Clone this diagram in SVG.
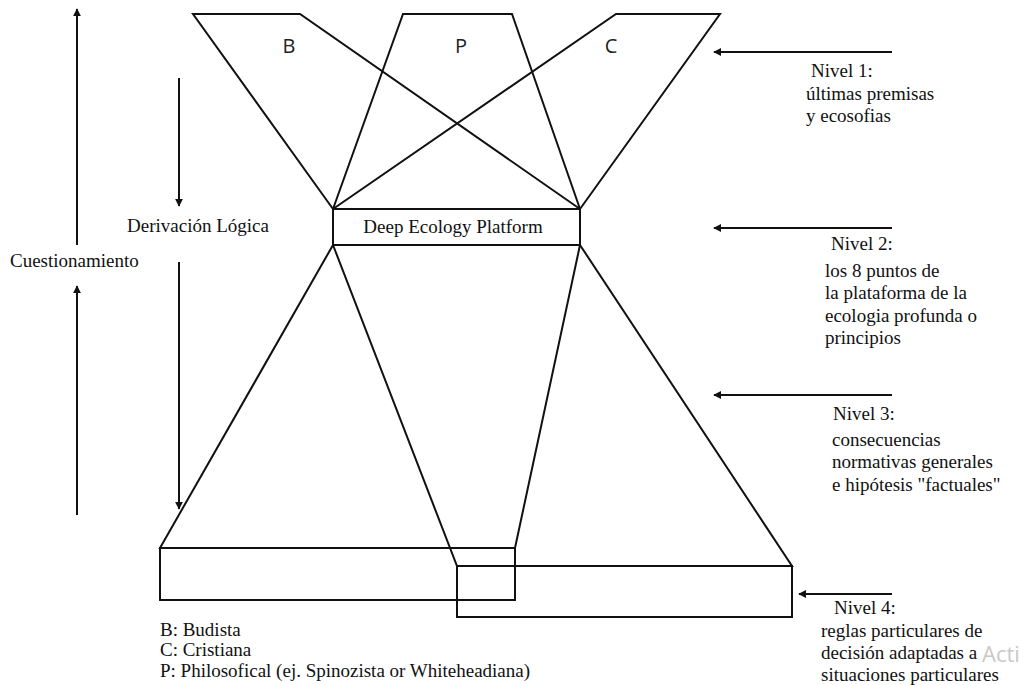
<svg xmlns="http://www.w3.org/2000/svg" width="1026" height="685" viewBox="0 0 1026 685">
<style>
.ln{stroke:#111;stroke-width:2;fill:none}
.t{font-family:'Liberation Serif',serif;font-size:19px;fill:#111}
.s{font-family:'Open Sans',sans-serif;font-size:20px;fill:#222}
.wm{font-family:'Open Sans',sans-serif;font-size:22px;fill:#c8c8c8}
</style>
<defs>
<marker id="ah" viewBox="0 0 10 10" refX="9" refY="5" markerWidth="8" markerHeight="8" markerUnits="userSpaceOnUse" orient="auto">
<path d="M0,0 L10,5 L0,10 z" fill="#111"/>
</marker>
</defs>
<rect width="1026" height="685" fill="#fff"/>
<g id="top-B">
<polyline class="ln" points="333,209 193,14 300,14 580,209"/>
<text class="s" x="289" y="53" text-anchor="middle">B</text>
</g>
<g id="top-P">
<polyline class="ln" points="333,209 403,14 512,14 580,209"/>
<text class="s" x="461" y="53" text-anchor="middle">P</text>
</g>
<g id="top-C">
<polyline class="ln" points="333,209 616,14 720,14 580,209"/>
<text class="s" x="611" y="53" text-anchor="middle">C</text>
</g>
<g id="platform">
<rect class="ln" x="333" y="209" width="247" height="36"/>
<text class="t" x="453" y="233" text-anchor="middle" font-family="Liberation Serif">Deep Ecology Platform</text>
</g>
<g id="bottom-left">
<polyline class="ln" points="333,245 160,548 515,548 580,245"/>
<rect class="ln" x="160" y="548" width="355" height="52"/>
</g>
<g id="bottom-right">
<polyline class="ln" points="333,245 457,566 792,566 580,245"/>
<rect class="ln" x="457" y="566" width="335" height="51"/>
</g>
<g id="connectors">
<line class="ln" x1="77" y1="245" x2="77" y2="9" marker-end="url(#ah)"/>
<line class="ln" x1="77" y1="515" x2="77" y2="286" marker-end="url(#ah)"/>
<line class="ln" x1="179" y1="78" x2="179" y2="206" marker-end="url(#ah)"/>
<line class="ln" x1="179" y1="262" x2="179" y2="509" marker-end="url(#ah)"/>
<line class="ln" x1="892" y1="52" x2="714" y2="52" marker-end="url(#ah)"/>
<line class="ln" x1="892" y1="228" x2="714" y2="228" marker-end="url(#ah)"/>
<line class="ln" x1="892" y1="395" x2="714" y2="395" marker-end="url(#ah)"/>
<line class="ln" x1="892" y1="594" x2="799" y2="594" marker-end="url(#ah)"/>
</g>
<g id="left-labels">
<text class="t" x="10" y="267" font-family="Liberation Serif">Cuestionamiento</text>
<text class="t" x="127" y="232" font-family="Liberation Serif">Derivación Lógica</text>
</g>
<g id="nivel1">
<text class="t" x="811" y="77" font-family="Liberation Serif">Nivel 1:</text>
<text class="t" x="806" y="100" font-family="Liberation Serif">últimas premisas</text>
<text class="t" x="806" y="122" font-family="Liberation Serif">y ecosofias</text>
</g>
<g id="nivel2">
<text class="t" x="831" y="250" font-family="Liberation Serif">Nivel 2:</text>
<text class="t" x="825" y="277" font-family="Liberation Serif">los 8 puntos de</text>
<text class="t" x="825" y="299" font-family="Liberation Serif">la plataforma de la</text>
<text class="t" x="825" y="322" font-family="Liberation Serif">ecologia profunda o</text>
<text class="t" x="825" y="344" font-family="Liberation Serif">principios</text>
</g>
<g id="nivel3">
<text class="t" x="833" y="420" font-family="Liberation Serif">Nivel 3:</text>
<text class="t" x="832" y="446" font-family="Liberation Serif">consecuencias</text>
<text class="t" x="832" y="468" font-family="Liberation Serif">normativas generales</text>
<text class="t" x="832" y="491" font-family="Liberation Serif">e hipótesis "factuales"</text>
</g>
<g id="nivel4">
<text class="t" x="834" y="614" font-family="Liberation Serif">Nivel 4:</text>
<text class="t" x="821" y="637" font-family="Liberation Serif">reglas particulares de</text>
<text class="t" x="821" y="659" font-family="Liberation Serif">decisión adaptadas a</text>
<text class="t" x="821" y="681" font-family="Liberation Serif">situaciones particulares</text>
</g>
<g id="legend">
<text class="t" x="160" y="636" font-family="Liberation Serif">B: Budista</text>
<text class="t" x="160" y="656" font-family="Liberation Serif">C: Cristiana</text>
<text class="t" x="160" y="677" font-family="Liberation Serif">P: Philosofical (ej. Spinozista or Whiteheadiana)</text>
</g>
<text class="wm" x="982" y="662">Acti</text>
</svg>
